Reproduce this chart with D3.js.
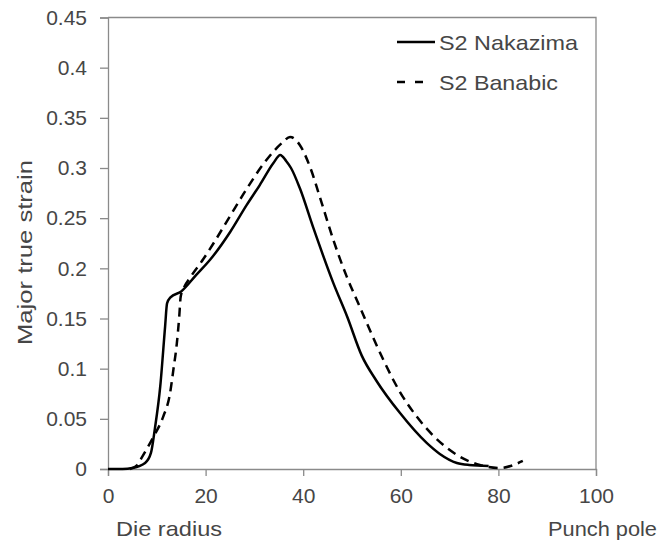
<!DOCTYPE html>
<html>
<head>
<meta charset="utf-8">
<script src="https://cdn.jsdelivr.net/npm/d3@7"></script>
<style>
  html, body { margin: 0; padding: 0; background: #fff; }
  svg { display: block; }
  text { font-family: "Liberation Sans", Arial, sans-serif; fill: #464646; }
</style>
</head>
<body>
<svg id="chart" width="664" height="543"></svg>
<script>
// ---- data ----
const seriesNames = ["S2 Nakazima", "S2 Banabic"];
const xTicks = [0, 20, 40, 60, 80, 100];
const yTicks = [0, 0.05, 0.1, 0.15, 0.2, 0.25, 0.3, 0.35, 0.4, 0.45];
const yTickLabels = ["0", "0.05", "0.1", "0.15", "0.2", "0.25", "0.3", "0.35", "0.4", "0.45"];
const xTitleLeft = "Die radius";
const xTitleRight = "Punch pole";
const yTitle = "Major true strain";

const nakazimaX = [0, 3, 5, 7.6, 8.8, 9.6, 10.7, 11.7, 12.1, 12.8, 15, 18, 21, 25, 28.4, 31.1, 33.9, 35.3, 36.5, 37.5, 39.3, 42.1, 46.2, 49, 52, 55, 59.8, 65.3, 68, 71.5, 74, 78];
const nakazimaY = [0, 0, 0.001, 0.006, 0.016, 0.040, 0.082, 0.142, 0.165, 0.171, 0.177, 0.193, 0.209, 0.236, 0.263, 0.283, 0.305, 0.313, 0.307, 0.300, 0.280, 0.240, 0.185, 0.152, 0.113, 0.088, 0.056, 0.026, 0.015, 0.006, 0.004, 0.003];

const banabicX = [4.5, 6, 7, 9.3, 11.3, 12.7, 13.4, 14.1, 14.6, 14.9, 15.4, 17, 19.5, 21.5, 25, 28.4, 32, 35.9, 37.3, 39.3, 41.4, 43.8, 46.2, 48.9, 51.3, 53.7, 56.5, 59.8, 63.3, 66.7, 71.5, 76.2, 80.3, 82.5, 85];
const banabicY = [0, 0.004, 0.012, 0.032, 0.052, 0.075, 0.099, 0.125, 0.152, 0.172, 0.179, 0.192, 0.209, 0.224, 0.252, 0.279, 0.305, 0.326, 0.331, 0.323, 0.301, 0.265, 0.228, 0.192, 0.165, 0.138, 0.108, 0.077, 0.052, 0.033, 0.014, 0.004, 0.001, 0.003, 0.008];

// ---- layout ----
const svg = d3.select("#chart");
const L = 108, R = 596, T = 17.5, B = 469;
const axisColor = "#8a8a8a";
const textColor = "#464646";

const x = d3.scaleLinear().domain([0, 100]).range([L, R]);
const y = d3.scaleLinear().domain([0, 0.45]).range([B, T]);

svg.append("rect").attr("width", 664).attr("height", 543).attr("fill", "#fff");

// frame (top + right)
svg.append("path")
  .attr("d", `M${L},${T}H${R}V${B}`)
  .attr("fill", "none").attr("stroke", axisColor).attr("stroke-width", 1.3);

// y axis
const yAxis = svg.append("g").attr("transform", `translate(${L},0)`)
  .call(d3.axisLeft(y).tickValues(yTicks).tickSize(8).tickPadding(13)
    .tickFormat((d, i) => yTickLabels[i]));
// x axis
const xAxis = svg.append("g").attr("transform", `translate(0,${B})`)
  .call(d3.axisBottom(x).tickValues(xTicks).tickSize(7).tickPadding(12).tickFormat(d3.format("d")));

[yAxis, xAxis].forEach(g => {
  g.select(".domain").attr("stroke", axisColor).attr("stroke-width", 1.3);
  g.selectAll(".tick line").attr("stroke", axisColor).attr("stroke-width", 1.3);
  g.selectAll(".tick text").attr("font-size", 21).attr("fill", textColor)
    .style("font-family", '"Liberation Sans", Arial, sans-serif');
});
xAxis.selectAll(".tick text").attr("dy", "0.71em");

// axis titles
function fitText(sel, w) {
  sel.attr("textLength", w).attr("lengthAdjust", "spacingAndGlyphs");
}
svg.append("text").attr("x", 116).attr("y", 536).attr("font-size", 21)
  .text(xTitleLeft).call(fitText, 106);
svg.append("text").attr("x", 657).attr("y", 536).attr("font-size", 21)
  .attr("text-anchor", "end").text(xTitleRight).call(fitText, 109);
svg.append("text")
  .attr("transform", "translate(32,252.5) rotate(-90)")
  .attr("text-anchor", "middle").attr("font-size", 21)
  .text(yTitle).call(fitText, 185);

// lines
const line = d3.line().x(d => x(d[0])).y(d => y(d[1])).curve(d3.curveMonotoneX);
const nak = nakazimaX.map((v, i) => [v, nakazimaY[i]]);
const ban = banabicX.map((v, i) => [v, banabicY[i]]);

svg.append("path").datum(ban).attr("d", line)
  .attr("fill", "none").attr("stroke", "#000").attr("stroke-width", 2.5)
  .attr("stroke-dasharray", "9,6");
svg.append("path").datum(nak).attr("d", line)
  .attr("fill", "none").attr("stroke", "#000").attr("stroke-width", 2.5);

// legend
const lg = svg.append("g");
lg.append("line").attr("x1", 397).attr("x2", 435).attr("y1", 42).attr("y2", 42)
  .attr("stroke", "#000").attr("stroke-width", 2.5);
lg.append("line").attr("x1", 397).attr("x2", 424).attr("y1", 82).attr("y2", 82)
  .attr("stroke", "#000").attr("stroke-width", 2.5).attr("stroke-dasharray", "8,10");
lg.append("text").attr("x", 439).attr("y", 49.5).attr("font-size", 21)
  .text(seriesNames[0]).call(fitText, 139);
lg.append("text").attr("x", 439).attr("y", 89.5).attr("font-size", 21)
  .text(seriesNames[1]).call(fitText, 119);
</script>
</body>
</html>
